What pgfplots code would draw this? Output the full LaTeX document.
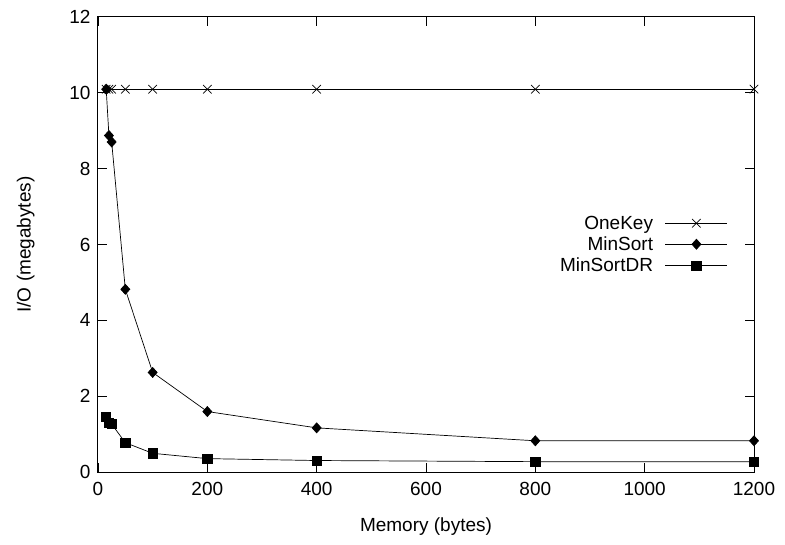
\documentclass[border=0pt]{standalone}
\usepackage{fontspec}
\setmainfont{Liberation Sans}
\usepackage{pgfplots}
\pgfplotsset{compat=1.18}

\pgfplotstableread{
x     onekey  minsort  minsortdr
15    10.09   10.09    1.45
20    10.09   8.87     1.30
25    10.09   8.70     1.27
50    10.09   4.82     0.78
100   10.09   2.63     0.50
200   10.09   1.60     0.36
400   10.09   1.17     0.31
800   10.09   0.83     0.28
1200  10.09   0.83     0.28
}\iodata

\begin{document}
\begin{tikzpicture}
\path[use as bounding box] (0pt,0pt) rectangle (785pt,545pt);
\begin{axis}[
  at={(98pt,72.7pt)}, anchor=south west,
  scale only axis, width=656pt, height=455.6pt,
  xmin=0, xmax=1200, ymin=0, ymax=12,
  xtick={0,200,...,1200}, ytick={0,2,...,12},
  tick align=inside, major tick length=9pt,
  tick style={black, line width=0.8pt},
  axis line style={line width=1pt},
  font=\fontsize{19}{22}\selectfont,
  /pgf/number format/assume math mode=true,
  /pgf/number format/1000 sep={},
  xticklabel style={yshift=-6pt},
  yticklabel style={xshift=-4pt},
  xlabel={Memory (bytes)}, ylabel={I/O (megabytes)},
  xlabel style={yshift=-16pt}, ylabel style={yshift=28pt},
  legend cell align=right, legend plot pos=right,
  legend style={draw=none, fill=none, at={(0.965,0.5)}, anchor=east,
    font=\fontsize{19}{21}\selectfont, row sep=2pt, column sep=10pt},
  legend image code/.code={%
    \draw[black!55, line width=0.8pt] (0pt,0pt) -- (62pt,0pt);
    \draw[mark repeat=2, mark phase=2]
      plot coordinates {(0pt,0pt) (31pt,0pt) (62pt,0pt)};},
]
\addplot[black, line width=0.7pt, mark=x, mark size=6pt,
  mark options={line width=0.7pt}] table[y=onekey] {\iodata};
\addlegendentry{OneKey}
\addplot[black, line width=0.7pt, mark=diamond*, mark size=5pt,
  mark options={xscale=1.2}] table[y=minsort] {\iodata};
\addlegendentry{MinSort}
\addplot[black, line width=0.7pt, mark=square*, mark size=4.6pt]
  table[y=minsortdr] {\iodata};
\addlegendentry{MinSortDR}
\end{axis}
\end{tikzpicture}
\end{document}
